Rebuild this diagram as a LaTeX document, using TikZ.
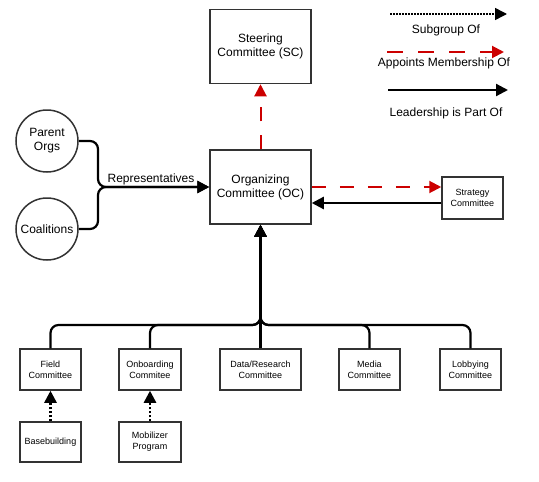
\documentclass[tikz,border=0pt]{standalone}
\usepackage{fontspec}
\setmainfont{Liberation Sans}
\usetikzlibrary{arrows.meta}
\definecolor{apred}{RGB}{204,0,0}
\begin{document}
\begin{tikzpicture}[x=1pt,y=-1pt,
  box/.style={draw=black!80, line width=1.5pt, fill=white, align=center, inner sep=0pt},
  bigbox/.style={box, minimum width=101pt, minimum height=74pt, font=\fontsize{12}{14}\selectfont},
  smallbox/.style={box, minimum width=61pt, minimum height=41pt, font=\fontsize{9}{11}\selectfont},
  circ/.style={draw=black!80, line width=1.5pt, circle, minimum size=62pt, inner sep=0pt, align=center, font=\fontsize{12}{14}\selectfont},
  lbl/.style={font=\fontsize{12}{14}\selectfont, inner sep=0pt},
  tip/.style={-{Triangle[length=12pt,width=12pt]}},
  lead/.style={tip, line width=2.2pt, black},
  appoint/.style={tip, line width=2pt, apred, dash pattern=on 14pt off 14pt},
  sub/.style={tip, line width=2.5pt, black, dash pattern=on 2pt off 2pt}
]
\useasboundingbox (0,0) rectangle (539,482);

% main nodes
\node[bigbox] (sc) at (260.5,46.5) {Steering\\Committee (SC)};
\node[bigbox] (oc) at (260.5,187) {Organizing\\Committee (OC)};
\node[circ] (parent) at (47,141) {Parent\\Orgs};
\node[circ] (coal) at (47,229) {Coalitions};
\node[smallbox, minimum height=42pt] (strat) at (472.5,198) {Strategy\\Committee};

\node[smallbox] (field) at (50.5,369.5) {Field\\Committee};
\node[smallbox, minimum width=62pt] (onb) at (150,369.5) {Onboarding\\Commitee};
\node[smallbox, minimum width=81pt] (data) at (260.5,369.5) {Data/Research\\Committee};
\node[smallbox] (media) at (369.5,369.5) {Media\\Committee};
\node[smallbox] (lobby) at (470.5,369.5) {Lobbying\\Committee};

\node[smallbox, minimum height=40pt] (base) at (50.5,442) {Basebuilding};
\node[smallbox, minimum width=62pt, minimum height=40pt] (mobil) at (150,442) {Mobilizer\\Program};

% representatives
\coordinate (j) at (98,187);
\draw[lead, rounded corners=8pt] (parent.east) -| (j) -- (oc.west);
\draw[lead, rounded corners=8pt] (coal.east) -| (j) -- (oc.west);
\node[lbl] (rep) at (151,179) {Representatives};

% appoints
\draw[appoint] (oc.north) -- (sc.south);
\draw[appoint] (oc.east) -- (strat.west |- oc.east);

% strategy leadership
\coordinate (s1) at ([yshift=-5pt]strat.west);
\draw[lead] (s1) -- (s1 -| oc.east);

% tree
\coordinate (trunk) at (260.5,325);
\foreach \c in {field,onb,media,lobby}{
  \draw[lead, rounded corners=8pt] (\c.north) |- (trunk) -- (oc.south);
}
\draw[lead] (data.north) -- (oc.south);

% subgroups
\draw[sub] (base.north) -- (field.south);
\draw[sub] (mobil.north) -- (onb.south);

% legend
\coordinate (la1) at (390,14);
\coordinate (lb1) at (507,14);
\draw[sub, line width=1.5pt, dash pattern=on 1.5pt off 1.5pt] (la1) -- (lb1);
\node[lbl] (t1) at (446,30) {Subgroup Of};
\coordinate (la2) at (387,52);
\coordinate (lb2) at (504,52);
\draw[appoint, dash pattern=on 16pt off 15pt] (la2) -- (lb2);
\node[lbl] (t2) at (444,63) {Appoints Membership Of};
\coordinate (la3) at (388,90);
\coordinate (lb3) at (508,90);
\draw[lead] (la3) -- (lb3);
\node[lbl] (t3) at (446,113) {Leadership is Part Of};
\end{tikzpicture}
\end{document}
